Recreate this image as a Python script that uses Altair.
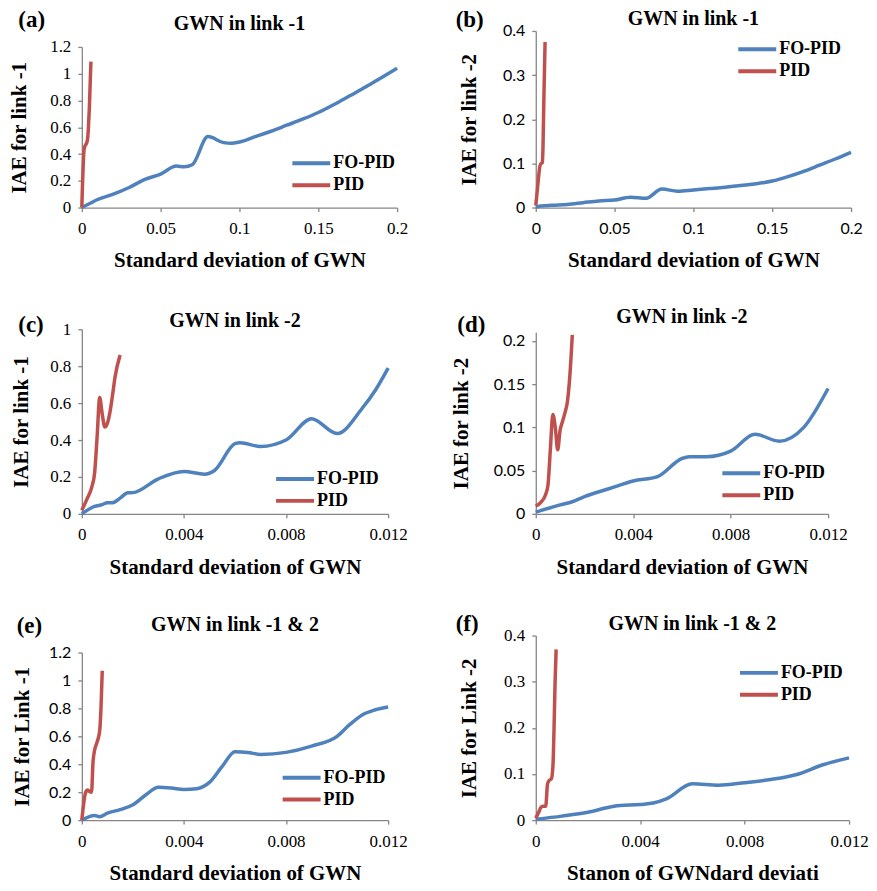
import altair as alt
import pandas as pd

SERIES = ["FO-PID", "PID"]
COLORS = ["#4F81BD", "#C0504D"]
SERIF = "Liberation Serif"
SANS = "Lato"

# ---------------- data ----------------
# (a) GWN in link -1, IAE for link -1
a_fo_x = [0, 0.005, 0.01, 0.02, 0.03, 0.04, 0.05, 0.06, 0.065, 0.07, 0.08, 0.09, 0.095, 0.1,
          0.11, 0.12, 0.13, 0.14, 0.15, 0.16, 0.17, 0.18, 0.19, 0.2]
a_fo_y = [0, 0.03, 0.06, 0.1, 0.15, 0.21, 0.25, 0.31, 0.305, 0.32, 0.53, 0.485, 0.48, 0.49,
          0.53, 0.57, 0.615, 0.66, 0.71, 0.77, 0.835, 0.9, 0.97, 1.04]
a_pid_x = [0, 0.0015, 0.0035, 0.0042, 0.0048, 0.0055, 0.0058]
a_pid_y = [0, 0.44, 0.5, 0.6, 0.75, 1.0, 1.09]

# (b) GWN in link -1, IAE for link -2
b_fo_x = [0, 0.01, 0.02, 0.03, 0.04, 0.05, 0.06, 0.07, 0.08, 0.09, 0.1, 0.11, 0.12, 0.13,
          0.14, 0.15, 0.16, 0.17, 0.18, 0.19, 0.2]
b_fo_y = [0.002, 0.005, 0.007, 0.011, 0.015, 0.017, 0.0235, 0.021, 0.042, 0.037, 0.04, 0.043,
          0.046, 0.05, 0.054, 0.06, 0.07, 0.082, 0.096, 0.11, 0.125]
b_pid_x = [0, 0.001, 0.0027, 0.0035, 0.0042, 0.0046, 0.0051, 0.0059]
b_pid_y = [0.005, 0.04, 0.095, 0.1, 0.102, 0.14, 0.24, 0.375]

# (c) GWN in link -2, IAE for link -1
c_fo_x = [0, 0.0005, 0.0008, 0.001, 0.0012, 0.0015, 0.0018, 0.002, 0.003, 0.004, 0.0048,
          0.0052, 0.006, 0.0062, 0.007, 0.008, 0.009, 0.01, 0.011, 0.0115, 0.012]
c_fo_y = [0, 0.04, 0.05, 0.06, 0.06, 0.085, 0.114, 0.115, 0.19, 0.23, 0.215,
          0.235, 0.38, 0.385, 0.365, 0.4, 0.515, 0.435, 0.575, 0.67, 0.79]
c_pid_x = [0, 0.0002, 0.0004, 0.0005, 0.0006, 0.0007, 0.0008, 0.0009, 0.001, 0.0011,
           0.0012, 0.0013, 0.0015]
c_pid_y = [0.02, 0.08, 0.15, 0.22, 0.42, 0.63, 0.54, 0.47, 0.49, 0.55, 0.64, 0.74, 0.86]

# (d) GWN in link -2, IAE for link -2
d_fo_x = [0, 0.001, 0.0015, 0.002, 0.003, 0.004, 0.005, 0.006, 0.0063, 0.007, 0.008, 0.009,
          0.01, 0.011, 0.012]
d_fo_y = [0.002, 0.0103, 0.014, 0.02, 0.029, 0.038, 0.043, 0.064, 0.066, 0.066, 0.0725, 0.092,
          0.084, 0.1, 0.145]
d_pid_x = [0, 0.0002, 0.0004, 0.0005, 0.0006, 0.0007, 0.0008, 0.0009, 0.001, 0.0011, 0.0012,
           0.0013, 0.0014, 0.0015]
d_pid_y = [0.009, 0.013, 0.022, 0.033, 0.075, 0.115, 0.1, 0.074, 0.097, 0.107, 0.117, 0.13,
           0.16, 0.207]

# (e) GWN in link -1 & 2, IAE for Link -1
e_fo_x = [0, 0.0005, 0.0007, 0.001, 0.0015, 0.002, 0.0025, 0.003, 0.0035, 0.004, 0.0045, 0.005,
          0.0055, 0.006, 0.0065, 0.007, 0.008, 0.009, 0.01, 0.0105, 0.011, 0.0115, 0.012]
e_fo_y = [0, 0.033, 0.025, 0.05, 0.075, 0.11, 0.18, 0.235, 0.23, 0.22, 0.225, 0.27,
          0.385, 0.49, 0.485, 0.47, 0.485, 0.53, 0.6, 0.685, 0.755, 0.79, 0.81]
e_pid_x = [0, 0.00015, 0.00022, 0.0003, 0.00038, 0.00044, 0.0005, 0.0006, 0.0007, 0.00075, 0.0008]
e_pid_y = [0, 0.2, 0.215, 0.205, 0.2, 0.42, 0.5, 0.56, 0.64, 0.8, 1.07]

# (f) GWN in link -1 & 2, IAE for Link -2
f_fo_x = [0, 0.001, 0.002, 0.003, 0.004, 0.0045, 0.005, 0.006, 0.007, 0.008, 0.009, 0.01,
          0.011, 0.012]
f_fo_y = [0.002, 0.0087, 0.017, 0.03, 0.034, 0.037, 0.046, 0.0786, 0.0757, 0.081, 0.088, 0.099,
          0.12, 0.135]
f_pid_x = [0, 0.00012, 0.0002, 0.00028, 0.00038, 0.00045, 0.0005, 0.0006, 0.00066, 0.0007,
           0.00074, 0.00078]
f_pid_y = [0.004, 0.018, 0.028, 0.03, 0.03, 0.078, 0.085, 0.09, 0.12, 0.2, 0.3, 0.37]

# tick values
x_ticks_wide = [0, 0.05, 0.1, 0.15, 0.2]
x_ticks_narrow = [0, 0.004, 0.008, 0.012]
y_ticks_12 = [0, 0.2, 0.4, 0.6, 0.8, 1, 1.2]
y_ticks_04 = [0, 0.1, 0.2, 0.3, 0.4]
y_ticks_10 = [0, 0.2, 0.4, 0.6, 0.8, 1]
y_ticks_02 = [0, 0.05, 0.1, 0.15, 0.2]

XTITLE = "Standard deviation of GWN"

TITLE_SHIFT = 20      # empirical: title baseline sits this far above (y1 - offset)
LEGEND_TOP = 9.8      # empirical: first legend row centre below legendY
SYM_HALF = 19         # half length of the legend line symbol
SYM_SIZE = (SYM_HALF) ** 2   # custom path "M-2,0H2" spans 2*sqrt(size)
ENTRY = 23            # max(ceil(sqrt(size) + strokeWidth), fontSize)


def panel(fo_x, fo_y, pid_x, pid_y, xmax, xticks, ymax, yticks, ytitle, xtitle,
          title, letter, w, h, ytop, ytitle_x, xfont, yfont, sym_start, leg_c,
          let_x, let_y, title_base):
    df = pd.DataFrame({
        "x": fo_x + pid_x,
        "y": fo_y + pid_y,
        "s": [SERIES[0]] * len(fo_x) + [SERIES[1]] * len(pid_x),
    })
    xfs = 17 if xfont == SERIF else 16
    yfs = 17 if yfont == SERIF else 16
    sym_center_off = ENTRY / 2
    lines = alt.Chart(df).mark_line(strokeWidth=3.5, interpolate="monotone").encode(
        x=alt.X("x:Q",
                scale=alt.Scale(domain=[0, xmax], nice=False, zero=False),
                axis=alt.Axis(values=xticks, format="~g", title=xtitle,
                              labelFont=xfont, labelFontSize=xfs, labelFlush=False,
                              labelOverlap=False, labelBaseline="top", labelPadding=9,
                              titleX=w / 2, titleY=59.5, titleAlign="center",
                              titleBaseline="alphabetic")),
        y=alt.Y("y:Q",
                scale=alt.Scale(domain=[0, ymax], nice=False, zero=False, range=[h, ytop]),
                axis=alt.Axis(values=yticks, format="~g", title=ytitle,
                              labelFont=yfont, labelFontSize=yfs, labelPadding=7,
                              labelOverlap=False,
                              titleX=ytitle_x, titleY=(h + ytop) / 2, titleAngle=270,
                              titleAlign="center", titleBaseline="alphabetic")),
        color=alt.Color("s:N",
                        scale=alt.Scale(domain=SERIES, range=COLORS),
                        legend=alt.Legend(orient="none",
                                          legendX=sym_start - (sym_center_off - SYM_HALF),
                                          legendY=leg_c - LEGEND_TOP,
                                          title=None, direction="vertical",
                                          symbolType="M-2,0H2", symbolSize=SYM_SIZE,
                                          symbolStrokeWidth=4, labelFont=SERIF,
                                          labelFontSize=18, labelFontWeight="bold",
                                          labelColor="black",
                                          labelOffset=sym_center_off + SYM_HALF + 3 - ENTRY,
                                          rowPadding=1, padding=0)),
    )
    letter_df = pd.DataFrame({"t": [letter]})
    lt = alt.Chart(letter_df).mark_text(
        font=SERIF, fontSize=23, fontWeight="bold", align="left",
        baseline="alphabetic", color="black"
    ).encode(text="t:N", x=alt.value(let_x), y=alt.value(let_y))
    letter_top = let_y - round(0.8 * 23)
    y1 = min(0, letter_top)
    offset = y1 - title_base - TITLE_SHIFT
    return alt.layer(lines, lt).properties(
        width=w, height=h,
        title=alt.TitleParams(text=title, font=SERIF, fontSize=20, fontWeight="bold",
                              color="black", anchor="middle", frame="group",
                              baseline="alphabetic", offset=offset),
    )


pa = panel(a_fo_x, a_fo_y, a_pid_x, a_pid_y, 0.2, x_ticks_wide, 1.2, y_ticks_12,
           "IAE for link -1", XTITLE, "GWN in link -1", "(a)", 316, 177, 16, -56,
           SERIF, SERIF, 211, 131, -63.7, -4, -1)
pb = panel(b_fo_x, b_fo_y, b_pid_x, b_pid_y, 0.2, x_ticks_wide, 0.4, y_ticks_04,
           "IAE for link -2", XTITLE, "GWN in link -1", "(b)", 316, 177, 0, -60,
           SANS, SANS, 203, 16.7, -80.3, -4, -6)
pc = panel(c_fo_x, c_fo_y, c_pid_x, c_pid_y, 0.012, x_ticks_narrow, 1.0, y_ticks_10,
           "IAE for link -1", XTITLE, "GWN in link -2", "(c)", 307, 185, 0, -54,
           SERIF, SERIF, 194.7, 148.3, -63.7, 2.7, -2.3)
pd_ = panel(d_fo_x, d_fo_y, d_pid_x, d_pid_y, 0.012, x_ticks_narrow, 0.21, y_ticks_02,
            "IAE for link -2", XTITLE, "GWN in link -2", "(d)", 293, 185, 3, -68.7,
            SERIF, SANS, 187, 142.7, -78.7, 2.7, -6.3)
pe = panel(e_fo_x, e_fo_y, e_pid_x, e_pid_y, 0.012, x_ticks_narrow, 1.2, y_ticks_12,
           "IAE for Link -1", XTITLE, "GWN in link -1 & 2", "(e)", 307, 185, 17, -53,
           SERIF, SANS, 201.3, 140.7, -65.3, -2.7, -4.3)
pf = panel(f_fo_x, f_fo_y, f_pid_x, f_pid_y, 0.012, x_ticks_narrow, 0.4, y_ticks_04,
           "IAE for Link -2", "Stanon of GWNdard deviati", "GWN in link -1 & 2", "(f)",
           314, 185, 0, -60, SERIF, SERIF, 204.7, 35.7, -80.3, -4.3, -5.3)

chart = alt.concat(
    pa, pb, pc, pd_, pe, pf, columns=2,
    spacing={"row": 122, "column": 139}, bounds="flush",
).resolve_scale(
    x="independent", y="independent", color="independent"
).resolve_legend(
    color="independent"
).properties(
    padding={"left": 1, "top": 0, "right": 0, "bottom": 0}
).configure_view(
    stroke=None
).configure_axis(
    grid=False,
    domainColor="#868686", domainWidth=1.3,
    tickColor="#868686", tickWidth=1.3, tickSize=4,
    labelColor="black",
    titleFont=SERIF, titleFontSize=21, titleFontWeight="bold", titleColor="black",
)

chart.save("out.html", embed_options={"renderer": "svg", "actions": False})
